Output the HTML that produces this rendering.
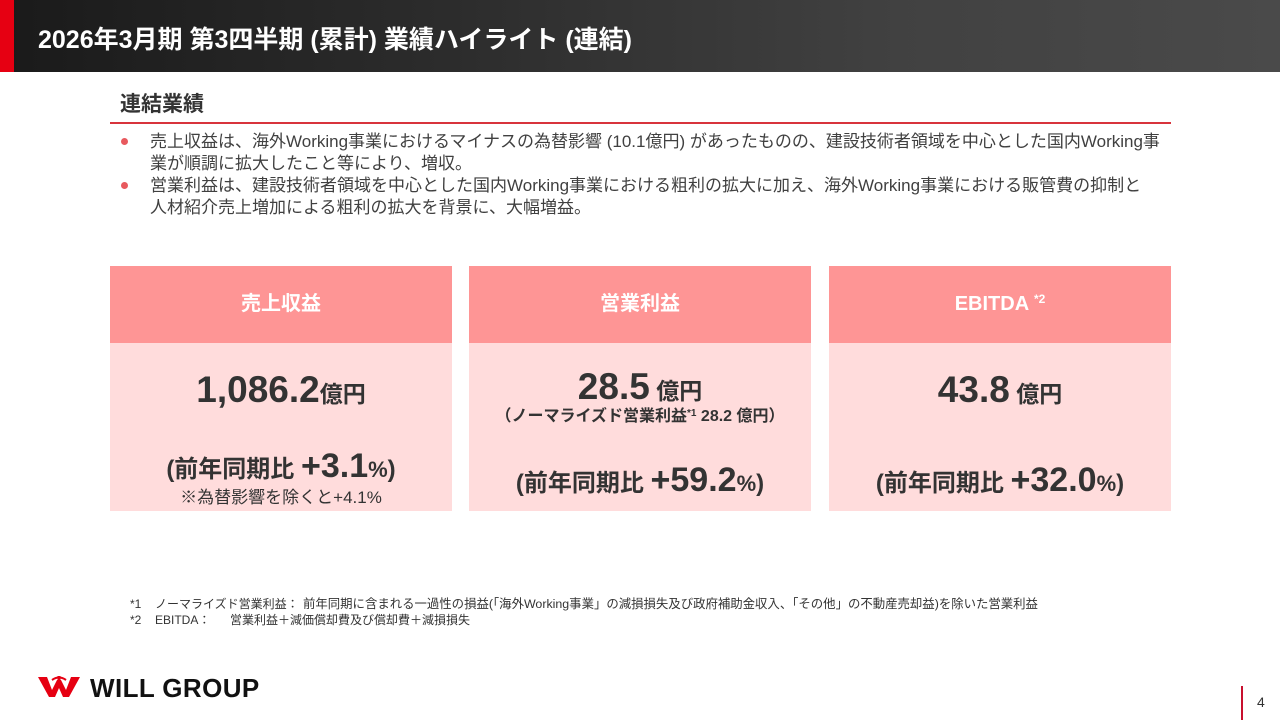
<!DOCTYPE html>
<html lang="ja">
<head>
<meta charset="utf-8">
<style>
  html,body{margin:0;padding:0;}
  body{width:1280px;height:720px;position:relative;overflow:hidden;background:#ffffff;
       font-family:"Liberation Sans","Noto Sans CJK JP",sans-serif;color:#333;}
  .abs{position:absolute;white-space:nowrap;}
  .hdr{left:0;top:0;width:1280px;height:72px;background:linear-gradient(90deg,#1a1a1a 0%,#2c2c2c 35%,#414141 70%,#4a4a4a 100%);}
  .redbar{left:0;top:0;width:14px;height:72px;background:#e60012;}
  .title{left:38px;top:25px;font-size:25px;line-height:30px;font-weight:bold;color:#fff;}
  .sub{left:120px;top:93px;font-size:21px;line-height:24px;font-weight:bold;color:#333;}
  .rule{left:110px;top:122px;width:1061px;height:2px;background:#d8343c;}
  .bl{left:150px;font-size:17px;line-height:22px;color:#404040;}
  .dot{width:7px;height:7px;border-radius:50%;background:#e8595e;}
  .card{width:342px;height:245px;top:266px;background:#ffdcdc;}
  .ch{position:absolute;left:0;top:0;width:342px;height:77px;background:#fe9595;color:#fff;
      font-weight:bold;font-size:20px;line-height:77px;text-align:center;}
  .row{position:absolute;left:0;width:342px;text-align:center;white-space:nowrap;font-weight:bold;color:#333;}
  .big{font-size:37px;}
  .unit{font-size:23px;}
  .pre{font-size:24px;}
  .pct{font-size:34px;}
  .pc{font-size:22px;}
  .fn{font-size:12px;line-height:15px;color:#333;}
  .sup{position:relative;line-height:0;}
</style>
</head>
<body>
  <div class="abs hdr"></div>
  <div class="abs redbar"></div>
  <div class="abs title">2026年3月期 第3四半期 (累計) 業績ハイライト (連結)</div>

  <div class="abs sub">連結業績</div>
  <div class="abs rule"></div>

  <div class="abs dot" style="left:121px;top:138px;"></div>
  <div class="abs bl" style="top:131px;">売上収益は、海外Working事業におけるマイナスの為替影響 (10.1億円) があったものの、建設技術者領域を中心とした国内Working事</div>
  <div class="abs bl" style="top:153px;">業が順調に拡大したこと等により、増収。</div>
  <div class="abs dot" style="left:121px;top:182px;"></div>
  <div class="abs bl" style="top:175px;">営業利益は、建設技術者領域を中心とした国内Working事業における粗利の拡大に加え、海外Working事業における販管費の抑制と</div>
  <div class="abs bl" style="top:197px;">人材紹介売上増加による粗利の拡大を背景に、大幅増益。</div>

  <!-- Card 1 -->
  <div class="abs card" style="left:110px;">
    <div class="ch">売上収益</div>
    <div class="row" style="top:102px;line-height:44px;font-size:37px;"><span class="big">1,086.2</span><span class="unit">億円</span></div>
    <div class="row" style="top:178px;line-height:44px;font-size:34px;"><span class="pre">(前年同期比 </span><span class="pct">+3.1</span><span class="pc">%</span><span class="pre">)</span></div>
    <div class="row" style="top:221px;line-height:22px;font-size:17px;font-weight:normal;">※為替影響を除くと+4.1%</div>
  </div>

  <!-- Card 2 -->
  <div class="abs card" style="left:469px;">
    <div class="ch">営業利益</div>
    <div class="row" style="top:99px;line-height:44px;font-size:37px;"><span class="big">28.5</span><span class="unit"> 億円</span></div>
    <div class="row" style="top:141px;line-height:20px;font-size:16px;">（ノーマライズド営業利益<span class="sup" style="font-size:10px;top:-5px;">*1</span> 28.2 億円）</div>
    <div class="row" style="top:192px;line-height:44px;font-size:34px;"><span class="pre">(前年同期比 </span><span class="pct">+59.2</span><span class="pc">%</span><span class="pre">)</span></div>
  </div>

  <!-- Card 3 -->
  <div class="abs card" style="left:829px;">
    <div class="ch">EBITDA <span class="sup" style="font-size:12px;top:-7px;">*2</span></div>
    <div class="row" style="top:102px;line-height:44px;font-size:37px;"><span class="big">43.8</span><span class="unit"> 億円</span></div>
    <div class="row" style="top:192px;line-height:44px;font-size:34px;"><span class="pre">(前年同期比 </span><span class="pct">+32.0</span><span class="pc">%</span><span class="pre">)</span></div>
  </div>

  <!-- Footnotes -->
  <div class="abs fn" style="left:130px;top:597px;">*1</div>
  <div class="abs fn" style="left:155px;top:597px;">ノーマライズド営業利益：</div>
  <div class="abs fn" style="left:303px;top:597px;font-size:12.4px;">前年同期に含まれる一過性の損益(「海外Working事業」の減損損失及び政府補助金収入、「その他」の不動産売却益)を除いた営業利益</div>
  <div class="abs fn" style="left:130px;top:613px;">*2</div>
  <div class="abs fn" style="left:155px;top:613px;">EBITDA：</div>
  <div class="abs fn" style="left:230px;top:613px;">営業利益＋減価償却費及び償却費＋減損損失</div>

  <!-- Logo -->
  <svg class="abs" style="left:38px;top:676px;" width="42" height="22" viewBox="0 0 42 22">
    <polygon points="0,1 9,1 14,14 19,4 23,4 28,14 33,1 42,1 31,21 25,21 21,12 17,21 11,21" fill="#e60012"/>
    <rect x="19.5" y="0" width="3" height="8" fill="#e60012"/>
    <path d="M14,4 Q21,-1 28,4" stroke="#e60012" stroke-width="2" fill="none"/>
  </svg>
  <div class="abs" style="left:90px;top:675px;font-size:26px;line-height:26px;font-weight:bold;color:#111;letter-spacing:0.4px;font-family:'Liberation Sans',sans-serif;">WILL GROUP</div>

  <!-- Page number -->
  <div class="abs" style="left:1241px;top:686px;width:2px;height:34px;background:#c8102e;"></div>
  <div class="abs" style="left:1257px;top:694px;font-size:14px;line-height:16px;color:#333;">4</div>
</body>
</html>
